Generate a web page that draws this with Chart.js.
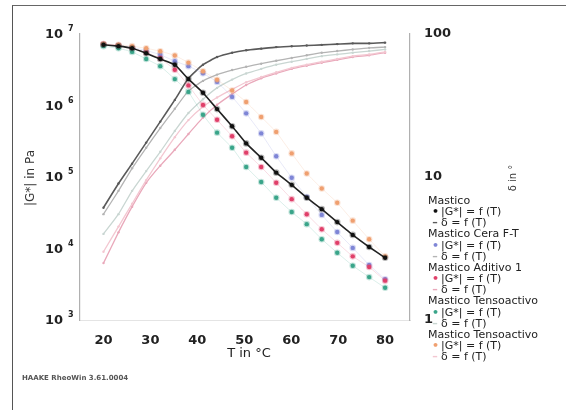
<!DOCTYPE html>
<html><head><meta charset="utf-8">
<script src="https://cdn.jsdelivr.net/npm/chart.js@4"></script>
<style>
html,body{margin:0;padding:0;background:#fff;overflow:hidden;}
#wrap{position:relative;width:566px;height:410px;overflow:hidden;}
#frame{position:absolute;left:12px;top:5px;width:620px;height:460px;border-left:1.5px solid #555;border-top:1.5px solid #666;}
canvas{position:absolute;left:0;top:0;}
#legend{position:absolute;left:428px;top:195px;font:11px 'DejaVu Sans';color:#222;line-height:11.15px;white-space:nowrap;}
#legend .it{padding-left:4px;}
#legend .mk{display:inline-block;width:6px;text-align:center;margin-right:3px;font-weight:bold;}
#footer{position:absolute;left:22px;top:374px;font:bold 7px 'DejaVu Sans';color:#555;letter-spacing:0px;}
</style></head>
<body>
<div id="wrap">
<div id="frame"></div>
<canvas id="c" width="566" height="410"></canvas>
<div id="legend"></div>
<div id="footer">HAAKE RheoWin 3.61.0004</div>
</div>
<script>
// ---- data ----
const temps = [20, 23.2, 26.1, 29.1, 32.1, 35.2, 38.1, 41.2, 44.2, 47.4, 50.4, 53.6, 56.8, 60.1, 63.3, 66.5, 69.8, 73.1, 76.6, 80];
const groupNames = ["Mastico", "Mastico Cera F-T", "Mastico Aditivo 1", "Mastico Tensoactivo", "Mastico Tensoactivo"];
const gMastico = [7.08e6, 6.76e6, 6.31e6, 5.37e6, 4.47e6, 3.72e6, 2.34e6, 1.51e6, 8.91e5, 5.13e5, 2.95e5, 1.86e5, 1.15e5, 7.76e4, 5.13e4, 3.55e4, 2.34e4, 1.55e4, 1.05e4, 7.41e3];
const gCera = [7.08e6, 6.92e6, 6.46e6, 5.89e6, 5.13e6, 4.17e6, 3.55e6, 2.82e6, 2.14e6, 1.32e6, 7.76e5, 4.07e5, 1.95e5, 9.77e4, 5.25e4, 2.95e4, 1.70e4, 1.02e4, 5.89e3, 3.72e3];
const gAditivo = [7.24e6, 6.92e6, 6.31e6, 5.50e6, 4.57e6, 3.16e6, 1.91e6, 1.02e6, 6.31e5, 3.72e5, 2.19e5, 1.38e5, 8.32e4, 4.90e4, 3.02e4, 1.86e4, 1.20e4, 7.76e3, 5.50e3, 3.55e3];
const gTenso = [6.76e6, 6.31e6, 5.62e6, 4.47e6, 3.55e6, 2.34e6, 1.55e6, 7.41e5, 4.17e5, 2.57e5, 1.38e5, 8.51e4, 5.13e4, 3.24e4, 2.19e4, 1.35e4, 8.71e3, 5.75e3, 3.98e3, 2.82e3];
const gTenso2 = [7.24e6, 7.08e6, 6.76e6, 6.31e6, 5.75e6, 5.01e6, 3.98e6, 3.02e6, 2.29e6, 1.62e6, 1.12e6, 6.92e5, 4.27e5, 2.14e5, 1.12e5, 6.92e4, 4.37e4, 2.45e4, 1.35e4, 7.76e3];
const dMastico = [6.1, 9, 12.4, 17.4, 24.4, 34.6, 49, 61, 69, 74, 77, 79, 81, 82, 83, 84, 85, 86, 86, 87];
const dCera = [5.5, 8, 11.5, 16, 22, 30, 40, 47, 52, 56, 59, 62, 65, 68, 71, 74, 76, 78, 80, 81];
const dAditivo = [2.5, 4.1, 6.2, 9.1, 12, 15.5, 20, 26, 32, 38, 44, 49, 53, 57, 60, 63, 66, 69, 71, 74];
const dTenso = [4, 5.5, 8, 11, 15, 21, 28, 35, 42, 48, 53, 57, 61, 64, 67, 70, 72, 74, 76, 78];
const dTenso2 = [3, 4.5, 6.5, 9.5, 13.5, 19, 25, 31, 36, 41, 46, 50, 54, 58, 61, 64, 67, 70, 72, 75];
const xTicks = [20, 30, 40, 50, 60, 70, 80];
const gTicks = [1e3, 1e4, 1e5, 1e6, 1e7];
const dTicks = [1, 10, 100];
const gLabel = "|G*| = f (T)";
const dLabel = "δ = f (T)";

// ---- styles ----
const gColors = ["#111111", "#7f86d6", "#e0406a", "#3aa58a", "#f0a070"];
const dColors = ["#5a5a5a", "#b4b4b4", "#e9a8ba", "#c9d6d2", "#f3c7d1"];
const gSeries = [gMastico, gCera, gAditivo, gTenso, gTenso2];
const dSeries = [dMastico, dCera, dAditivo, dTenso, dTenso2];

function hexA(h, a) {
  const r = parseInt(h.slice(1,3),16), g = parseInt(h.slice(3,5),16), b = parseInt(h.slice(5,7),16);
  return `rgba(${r},${g},${b},${a})`;
}
const pts = arr => arr.map((v, i) => ({x: temps[i], y: v}));

const datasets = [];
dSeries.forEach((s, k) => {
  datasets.push({
    label: groupNames[k] + " " + dLabel, data: pts(s), yAxisID: 'y2',
    borderColor: dColors[k], borderWidth: k === 0 ? 1.6 : 1.3,
    pointRadius: 1.2, pointBackgroundColor: dColors[k], pointBorderWidth: 0,
    tension: 0.15, order: 10 - k
  });
});
gSeries.forEach((s, k) => {
  const main = k === 0;
  datasets.push({
    label: groupNames[k] + " " + gLabel, data: pts(s), yAxisID: 'y',
    borderColor: main ? "#222" : hexA(gColors[k], 0.18), borderWidth: main ? 1.6 : 1,
    pointRadius: 2.2, pointBackgroundColor: gColors[k],
    pointBorderColor: hexA(gColors[k], 0.3), pointBorderWidth: 2.2,
    tension: 0.1, order: main ? 0 : 5 - k
  });
});

const fontTick = {family: 'DejaVu Sans', size: 13, weight: 'bold'};

const drawText = {
  id: 'drawText',
  afterDraw(chart) {
    const ctx = chart.ctx, y = chart.scales.y, x = chart.scales.x, ca = chart.chartArea;
    ctx.save();
    ctx.fillStyle = '#222';
    ctx.textBaseline = 'middle';
    gTicks.forEach(v => {
      const py = y.getPixelForValue(v);
      const e = Math.round(Math.log10(v));
      ctx.font = "bold 13px 'DejaVu Sans'";
      ctx.textAlign = 'right';
      ctx.fillText('10', 63, py + 1);
      ctx.font = "bold 8px 'DejaVu Sans'";
      ctx.textAlign = 'left';
      ctx.fillText(String(e), 68, py - 5);
    });
    // axis titles
    ctx.font = "12px 'DejaVu Sans'";
    ctx.fillStyle = '#333';
    ctx.textAlign = 'center';
    ctx.save();
    ctx.translate(31, (ca.top + ca.bottom) / 2 + 1);
    ctx.rotate(-Math.PI / 2);
    ctx.fillText('|G*| in Pa', 0, 0);
    ctx.restore();
    ctx.save();
    ctx.font = "10px 'DejaVu Sans'";
    ctx.translate(513, (ca.top + ca.bottom) / 2 + 1);
    ctx.rotate(-Math.PI / 2);
    ctx.fillText('δ in °', 0, 0);
    ctx.restore();
    ctx.font = "13px 'DejaVu Sans'";
    ctx.fillStyle = '#222';
    ctx.fillText('T in °C', x.getPixelForValue(51), 354);
    ctx.restore();
  }
};

new Chart(document.getElementById('c'), {
  type: 'line',
  data: {datasets},
  options: {
    responsive: false, animation: false,
    layout: {padding: {top: 34, left: 0, right: 0, bottom: 0}},
    plugins: {legend: {display: false}, tooltip: {enabled: false}},
    scales: {
      x: {
        type: 'linear', min: 15, max: 85.3, position: 'bottom',
        grid: {display: false}, border: {display: true, color: '#e4e4e4'},
        ticks: {font: fontTick, color: '#222', padding: 5},
        afterBuildTicks: s => { s.ticks = xTicks.map(v => ({value: v})); },
        afterFit: s => { s.height = 90; }
      },
      y: {
        type: 'logarithmic', min: 1e3, max: 1e7, position: 'left',
        grid: {display: false}, border: {display: true, color: '#b0b0b0', width: 1.2},
        ticks: {display: false},
        afterBuildTicks: s => { s.ticks = gTicks.map(v => ({value: v})); },
        afterFit: s => { s.width = 80; }
      },
      y2: {
        type: 'logarithmic', min: 1, max: 100, position: 'right',
        grid: {display: false}, border: {display: true, color: '#b0b0b0', width: 1.2},
        ticks: {font: fontTick, color: '#222', padding: 6, callback: v => String(v)},
        afterBuildTicks: s => { s.ticks = dTicks.map(v => ({value: v})); },
        afterFit: s => { s.width = 156; }
      }
    }
  },
  plugins: [drawText]
});

// ---- legend (HTML, real text) ----
const lg = document.getElementById('legend');
let html = '';
groupNames.forEach((n, k) => {
  html += `<div>${n}</div>`;
  html += `<div class="it"><span class="mk" style="color:${gColors[k]}">•</span>${gLabel}</div>`;
  html += `<div class="it"><span class="mk" style="color:${dColors[k]}">–</span>${dLabel}</div>`;
});
lg.innerHTML = html;
</script>
</body></html>
